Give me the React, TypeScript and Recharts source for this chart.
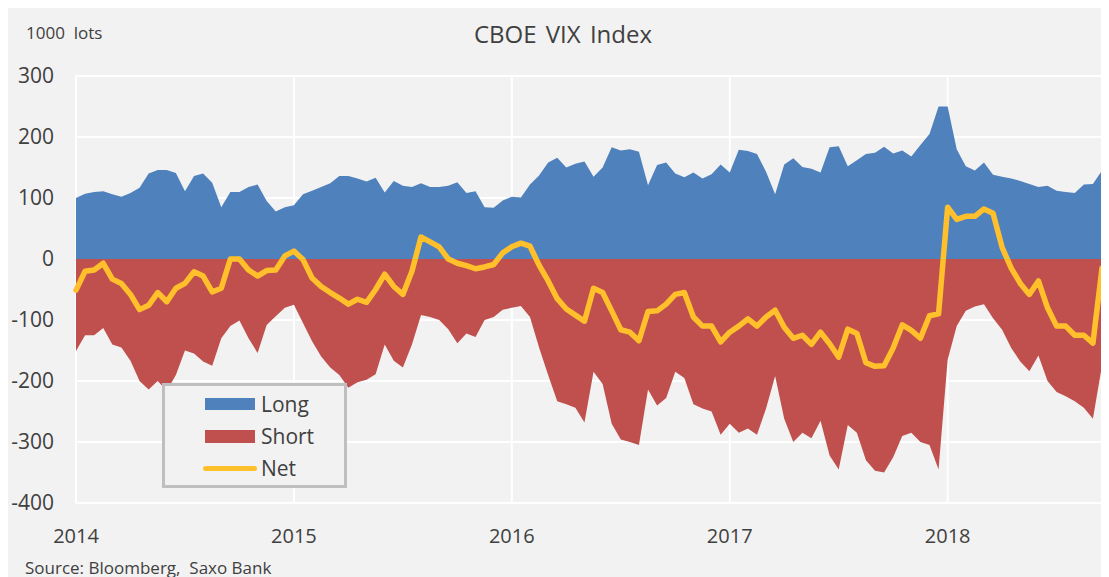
import {
  ComposedChart,
  Area,
  Line,
  XAxis,
  YAxis,
  CartesianGrid,
  Legend,
} from 'recharts'

// CBOE VIX futures positioning, 1000 lots, semi-monthly readings from Jan 2014
const longLots = [
  100, 107, 110, 111, 106, 102, 108, 117, 140, 146,
  146, 141, 111, 136, 140, 125, 85, 110, 110, 118,
  122, 95, 78, 85, 88, 106, 112, 118, 124, 136,
  136, 132, 127, 133, 109, 128, 120, 118, 124, 118,
  118, 120, 126, 108, 111, 85, 84, 96, 102, 101,
  122, 137, 158, 166, 150, 156, 160, 135, 150, 183,
  178, 180, 176, 121, 154, 158, 140, 134, 142, 132,
  139, 155, 142, 179, 177, 172, 143, 106, 155, 165,
  151, 148, 142, 183, 185, 152, 162, 172, 174, 184,
  173, 178, 168, 187, 205, 250, 250, 180, 152, 145,
  158, 138, 135, 132, 128, 123, 118, 120, 112, 110,
  108, 122, 123, 145,
]

const shortLots = [
  -151, -125, -125, -113, -140, -145, -167, -200, -214, -200,
  -216, -190, -150, -155, -168, -175, -130, -110, -101, -130,
  -154, -108, -94, -80, -75, -105, -135, -160, -178, -190,
  -211, -202, -198, -189, -140, -167, -178, -140, -92, -95,
  -100, -115, -138, -122, -128, -100, -95, -83, -80, -77,
  -95, -145, -190, -233, -238, -244, -268, -185, -205, -270,
  -296, -300, -305, -214, -240, -228, -185, -195, -238, -245,
  -250, -288, -270, -285, -278, -288, -245, -192, -262, -300,
  -285, -294, -265, -322, -345, -272, -285, -330, -347, -350,
  -325, -290, -285, -300, -305, -345, -165, -110, -85, -78,
  -74, -97, -116, -146, -168, -184, -158, -200, -218, -225,
  -233, -244, -262, -175,
]

const netLots = [
  -51, -20, -18, -7, -33, -40, -58, -83, -76, -55,
  -70, -48, -40, -21, -28, -54, -48, 0, 0, -18,
  -28, -19, -18, 5, 13, -1, -31, -45, -55, -64,
  -74, -66, -71, -50, -25, -45, -58, -20, 36, 28,
  20, 0, -7, -11, -16, -13, -9, 10, 20, 26,
  21, -10, -36, -65, -82, -92, -102, -48, -55, -85,
  -116, -120, -134, -86, -85, -74, -58, -55, -95, -110,
  -110, -136, -120, -110, -98, -110, -95, -84, -112, -130,
  -125, -140, -120, -139, -161, -115, -122, -170, -176, -175,
  -146, -108, -117, -130, -93, -90, 85, 65, 70, 70,
  82, 75, 19, -15, -40, -58, -36, -80, -110, -110,
  -125, -125, -138, -15,
]

const yearTicks = [2014, 2015, 2016, 2017, 2018]
const lotTicks = [-400, -300, -200, -100, 0, 100, 200, 300]

const data = longLots.map((v, i) => ({
  t: 2014 + i / 24,
  long: v,
  short: shortLots[i],
  net: netLots[i],
}))

const BLUE = '#4F81BD'
const RED = '#C0504D'
const GOLD = '#FFC02B'
const TEXT = '#404040'

function LegendBox() {
  const row = { display: 'flex', alignItems: 'center', height: 32 }
  return (
    <div
      style={{
        width: 179,
        height: 97,
        border: '3px solid #BFBFBF',
        background: '#F2F2F2',
        fontSize: 21,
        color: TEXT,
        paddingTop: 2,
        boxSizing: 'content-box',
      }}
    >
      <div style={row}>
        <span style={{ width: 50, height: 12, background: BLUE, marginLeft: 40, marginRight: 6 }} />
        <span>Long</span>
      </div>
      <div style={row}>
        <span style={{ width: 50, height: 13, background: RED, marginLeft: 40, marginRight: 6 }} />
        <span>Short</span>
      </div>
      <div style={row}>
        <span
          style={{ width: 54, height: 5, borderRadius: 3, background: GOLD, marginLeft: 38, marginRight: 4 }}
        />
        <span>Net</span>
      </div>
    </div>
  )
}

export default function App() {
  return (
    <div
      style={{
        position: 'relative',
        width: 1102,
        height: 572,
        margin: '-3px 0 0 -1px',
        background: '#F2F2F2',
        fontFamily: '"Open Sans", sans-serif',
        color: TEXT,
      }}
    >
      <div style={{ position: 'absolute', left: 19, top: 17, fontSize: 17, lineHeight: '22px' }}>
        1000&nbsp; lots
      </div>
      <div
        style={{
          position: 'absolute',
          left: 0,
          width: 1112,
          top: 14,
          textAlign: 'center',
          fontSize: 24,
          lineHeight: '30px',
          wordSpacing: 3,
        }}
      >
        CBOE VIX Index
      </div>
      <ComposedChart
        width={1102}
        height={572}
        data={data}
        margin={{ top: 71, right: 7, bottom: 0, left: 0 }}
      >
        <CartesianGrid stroke="#FFFFFF" strokeWidth={2} />
        <XAxis
          dataKey="t"
          type="number"
          domain={[2014, 2014 + 113 / 24]}
          ticks={yearTicks}
          height={74}
          axisLine={false}
          tickLine={false}
          tickSize={0}
          tickMargin={26}
          tick={{ fill: TEXT, fontSize: 20 }}
        />
        <YAxis
          type="number"
          domain={[-400, 300]}
          ticks={lotTicks}
          width={69}
          axisLine={false}
          tickLine={false}
          tickSize={0}
          tickMargin={22}
          tick={{ fill: TEXT, fontSize: 21 }}
        />
        <Area
          dataKey="long"
          type="linear"
          baseValue={0}
          fill={BLUE}
          fillOpacity={1}
          stroke="none"
          isAnimationActive={false}
        />
        <Area
          dataKey="short"
          type="linear"
          baseValue={0}
          fill={RED}
          fillOpacity={1}
          stroke="none"
          isAnimationActive={false}
        />
        <Line
          dataKey="net"
          type="linear"
          stroke={GOLD}
          strokeWidth={5.5}
          strokeLinejoin="round"
          strokeLinecap="round"
          dot={false}
          isAnimationActive={false}
        />
        <Legend
          layout="vertical"
          align="center"
          verticalAlign="middle"
          content={() => <LegendBox />}
          wrapperStyle={{ left: 155, top: 378, width: 'auto' }}
        />
      </ComposedChart>
      <div style={{ position: 'absolute', left: 18, top: 552, fontSize: 17, lineHeight: '22px' }}>
        Source: Bloomberg,&nbsp; Saxo Bank
      </div>
    </div>
  )
}
